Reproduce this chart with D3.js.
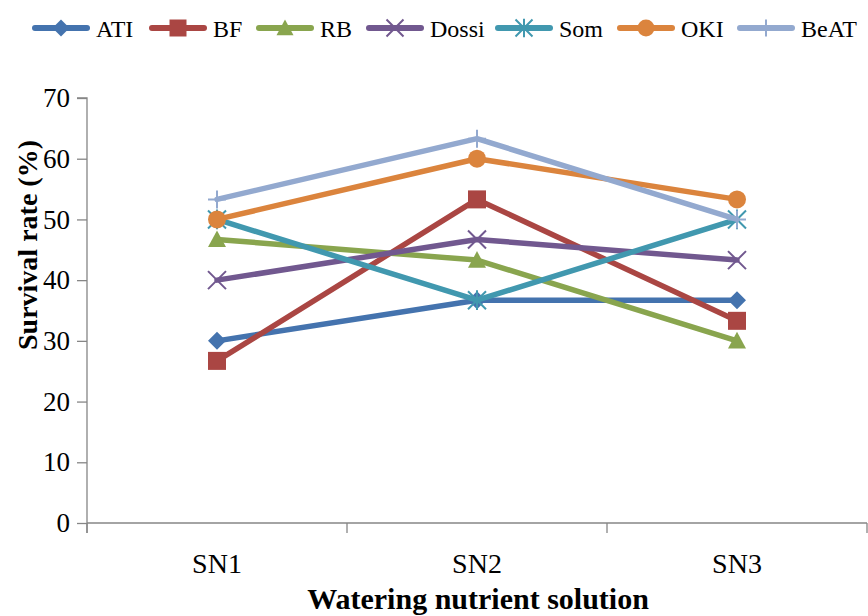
<!DOCTYPE html>
<html>
<head>
<meta charset="utf-8">
<script src="https://cdn.jsdelivr.net/npm/d3@7"></script>
<style>
  body { margin: 0; background: #fff; }
  svg { display: block; }
  svg text { font-family: 'Liberation Serif', 'Times New Roman', serif; fill: #000; }
</style>
</head>
<body>
<div id="chart"></div>
<script>
const categories = ["SN1", "SN2", "SN3"];
const seriesNames = ["ATI", "BF", "RB", "Dossi", "Som", "OKI", "BeAT"];
const ati = [30, 36.7, 36.7];
const bf = [26.7, 53.3, 33.3];
const rb = [46.7, 43.3, 30];
const dossi = [40, 46.7, 43.3];
const som = [50, 36.7, 50];
const oki = [50, 60, 53.3];
const beat = [53.3, 63.3, 50];
const yTicks = [0, 10, 20, 30, 40, 50, 60, 70];

const colors = ["#4473AE", "#AA4643", "#89A54E", "#71588F", "#4198AF", "#DB843D", "#93A9CF"];
const shapes = ["diamond", "square", "triangle", "cross", "star", "circle", "plus"];
const values = [ati, bf, rb, dossi, som, oki, beat];

const width = 868, height = 616;
const margin = { top: 98, right: 1, bottom: 93, left: 87 };
const serif = "'Liberation Serif', 'Times New Roman', serif";

const svg = d3.select("#chart").append("svg")
    .attr("width", width).attr("height", height);

const x = d3.scaleBand().domain(categories).range([margin.left, width - margin.right]);
const y = d3.scaleLinear().domain([0, 70]).range([height - margin.bottom, margin.top]);

// marker path for a given shape, centered at 0,0, s = half-width
function markerPath(shape, s) {
    const p = d3.path();
    if (shape === "diamond") {
        p.moveTo(0, -s); p.lineTo(s, 0); p.lineTo(0, s); p.lineTo(-s, 0); p.closePath();
    } else if (shape === "square") {
        p.rect(-s, -s, 2 * s, 2 * s);
    } else if (shape === "triangle") {
        p.moveTo(0, -s); p.lineTo(s, s * 0.85); p.lineTo(-s, s * 0.85); p.closePath();
    } else if (shape === "circle") {
        p.arc(0, 0, s, 0, 2 * Math.PI);
    } else if (shape === "cross") {
        p.moveTo(-s, -s); p.lineTo(s, s); p.moveTo(-s, s); p.lineTo(s, -s);
    } else if (shape === "star") {
        p.moveTo(-s, -s); p.lineTo(s, s); p.moveTo(-s, s); p.lineTo(s, -s);
        p.moveTo(0, -s * 1.1); p.lineTo(0, s * 1.1);
    } else if (shape === "plus") {
        p.moveTo(0, -s); p.lineTo(0, s); p.moveTo(-s, 0); p.lineTo(s, 0);
    }
    return p.toString();
}
const filled = shape => ["diamond", "square", "triangle", "circle"].includes(shape);

function drawMarker(g, shape, color, cx, cy, s) {
    const m = g.append("path")
        .attr("d", markerPath(shape, s))
        .attr("transform", `translate(${cx},${cy})`);
    if (filled(shape)) m.attr("fill", color).attr("stroke", "none");
    else m.attr("fill", "none").attr("stroke", color).attr("stroke-width", 2);
}

// axes
const axisColor = "#868686";
const yAxis = svg.append("g")
    .attr("transform", `translate(${margin.left},0)`)
    .call(d3.axisLeft(y).tickValues(yTicks).tickSize(10).tickPadding(7));
yAxis.select(".domain").attr("stroke", axisColor).attr("stroke-width", 1.3)
    .attr("d", `M-10,${y(70)}H0V${y(0) + 10}`);
yAxis.selectAll(".tick line").attr("stroke", axisColor).attr("stroke-width", 1.3);
yAxis.selectAll(".tick text")
    .style("font-family", serif)
    .attr("font-size", 27);

const xAxis = svg.append("g")
    .attr("transform", `translate(0,${y(0)})`);
xAxis.append("line")
    .attr("x1", margin.left).attr("x2", width - margin.right)
    .attr("stroke", axisColor).attr("stroke-width", 1.3);
const bounds = categories.map(c => x(c)).concat([x(categories[categories.length - 1]) + x.bandwidth()]);
xAxis.selectAll(".xtick").data(bounds).enter().append("line")
    .attr("x1", d => d).attr("x2", d => d)
    .attr("y1", 0).attr("y2", 10)
    .attr("stroke", axisColor).attr("stroke-width", 1.3);
xAxis.selectAll(".xlabel").data(categories).enter().append("text")
    .attr("x", d => x(d) + x.bandwidth() / 2)
    .attr("y", 50)
    .attr("text-anchor", "middle")
    .attr("font-size", 28)
    .text(d => d);

// axis titles
svg.append("text")
    .attr("x", 478)
    .attr("y", 609)
    .attr("text-anchor", "middle")
    .attr("font-weight", "bold")
    .attr("font-size", 30)
    .text("Watering nutrient solution");

svg.append("text")
    .attr("transform", `translate(37,245) rotate(-90)`)
    .attr("text-anchor", "middle")
    .attr("font-weight", "bold")
    .attr("font-size", 28)
    .text("Survival rate (%)");

// series
const line = d3.line()
    .x((d, i) => x(categories[i]) + x.bandwidth() / 2)
    .y(d => y(d));

seriesNames.forEach((name, k) => {
    const g = svg.append("g");
    g.append("path")
        .datum(values[k])
        .attr("d", line)
        .attr("fill", "none")
        .attr("stroke", colors[k])
        .attr("stroke-width", 5.5)
        .attr("stroke-linejoin", "round")
        .attr("stroke-linecap", "round");
    values[k].forEach((v, i) => {
        drawMarker(g, shapes[k], colors[k], x(categories[i]) + x.bandwidth() / 2, y(v), 9);
    });
});

// legend
const legendX = [33, 150, 257, 367, 496, 618, 738];
const legend = svg.append("g").attr("transform", "translate(0,28)");
seriesNames.forEach((name, k) => {
    const g = legend.append("g").attr("transform", `translate(${legendX[k]},0)`);
    g.append("line").attr("x1", 2).attr("x2", 54)
        .attr("stroke", colors[k]).attr("stroke-width", 6).attr("stroke-linecap", "round");
    drawMarker(g, shapes[k], colors[k], 28, 0, 8.5);
    g.append("text")
        .attr("x", 63).attr("y", 9)
        .attr("font-size", 24)
        .text(name);
});
</script>
</body>
</html>
